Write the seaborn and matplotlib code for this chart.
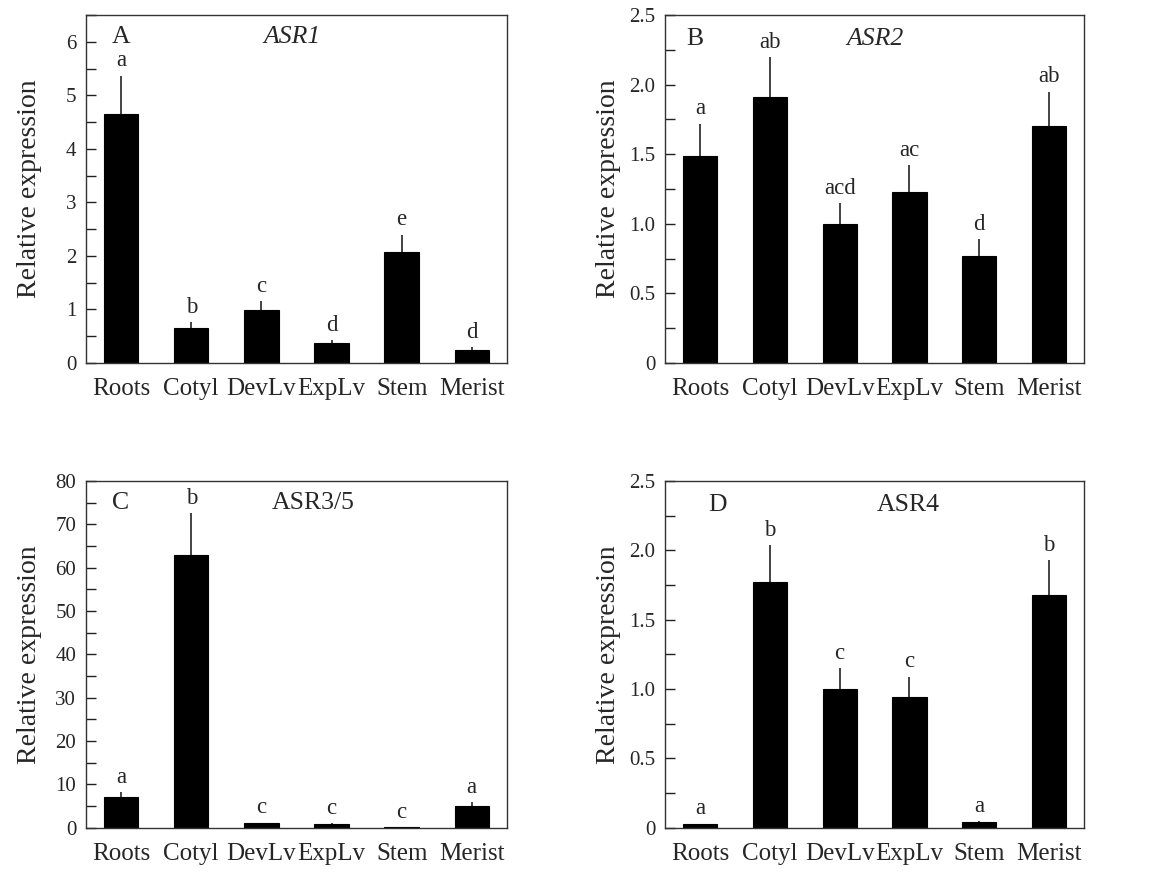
import matplotlib
matplotlib.use("Agg")
import matplotlib.pyplot as plt
import seaborn as sns
import numpy as np
import pandas as pd
from matplotlib.ticker import MultipleLocator, FuncFormatter

# tissues on the x axis
tissues = ["Roots", "Cotyl", "DevLv", "ExpLv", "Stem", "Merist"]

# ASR1
asr1_mean = [4.66, 0.65, 0.99, 0.37, 2.08, 0.24]
asr1_err = [0.71, 0.12, 0.17, 0.06, 0.32, 0.05]
asr1_sig = ["a", "b", "c", "d", "e", "d"]

# ASR2
asr2_mean = [1.49, 1.91, 1.00, 1.23, 0.77, 1.70]
asr2_err = [0.23, 0.29, 0.15, 0.19, 0.12, 0.25]
asr2_sig = ["a", "ab", "acd", "ac", "d", "ab"]

# ASR3/5
asr35_mean = [7.0, 63.0, 1.0, 0.9, 0.05, 5.0]
asr35_err = [1.3, 9.5, 0.2, 0.2, 0.0, 0.9]
asr35_sig = ["a", "b", "c", "c", "c", "a"]

# ASR4
asr4_mean = [0.025, 1.77, 1.00, 0.94, 0.043, 1.68]
asr4_err = [0.005, 0.27, 0.15, 0.15, 0.007, 0.25]
asr4_sig = ["a", "b", "c", "c", "a", "b"]

sns.set_style("ticks")
plt.rcParams['font.family'] = ['Liberation Serif', 'DejaVu Serif']

fig = plt.figure(figsize=(11.53, 8.72), dpi=100)

panels = [
    # rect, mean, err, sig, letter, title, italic, ymax, major, minor, letter_pos, title_pos
    ([0.0746, 0.5837, 0.365, 0.399], asr1_mean, asr1_err, asr1_sig, "A", "ASR1", True,
     6.5, 1, 0.5, (0.083, 0.937), (0.49, 0.937)),
    ([0.5768, 0.5837, 0.3634, 0.399], asr2_mean, asr2_err, asr2_sig, "B", "ASR2", True,
     2.5, 0.5, 0.25, (0.072, 0.93), (0.50, 0.93)),
    ([0.0746, 0.0508, 0.365, 0.3976], asr35_mean, asr35_err, asr35_sig, "C", "ASR3/5", False,
     80, 10, 5, (0.083, 0.937), (0.54, 0.937)),
    ([0.5768, 0.0508, 0.3634, 0.3976], asr4_mean, asr4_err, asr4_sig, "D", "ASR4", False,
     2.5, 0.5, 0.25, (0.126, 0.93), (0.58, 0.93)),
]

for rect, mean, err, sig, letter, title, italic, ymax, major, minor, lpos, tpos in panels:
    ax = fig.add_axes(rect)
    df = pd.DataFrame({"tissue": tissues, "expr": mean})
    sns.barplot(data=df, x="tissue", y="expr", color="black", saturation=1,
                width=0.49, errorbar=None, ax=ax, edgecolor="black", linewidth=0.8)
    x = np.arange(len(tissues))
    # upper half of the error bars only, no caps
    ax.errorbar(x, mean, yerr=[np.zeros(len(mean)), err], fmt="none",
                ecolor="#111111", elinewidth=1.1, capsize=0)

    for i in range(len(tissues)):
        ax.annotate(sig[i], (x[i], mean[i] + err[i]), xytext=(0, 3),
                    textcoords="offset points", ha="center", va="bottom",
                    fontsize=16.5)

    ax.text(lpos[0], lpos[1], letter, transform=ax.transAxes, ha="center",
            va="center", fontsize=18.5)
    ax.text(tpos[0], tpos[1], title, transform=ax.transAxes, ha="center",
            va="center", fontsize=18.5, style="italic" if italic else "normal")

    ax.set_xlim(-0.5, len(tissues) - 0.5)
    ax.set_ylim(0, ymax)
    ax.yaxis.set_major_locator(MultipleLocator(major))
    ax.yaxis.set_minor_locator(MultipleLocator(minor))
    if major < 1:
        ax.yaxis.set_major_formatter(FuncFormatter(lambda v, p: "0" if v == 0 else f"{v:.1f}"))
    else:
        ax.yaxis.set_major_formatter(FuncFormatter(lambda v, p: f"{int(round(v))}"))
    ax.tick_params(axis="y", which="both", direction="in", length=7, width=1,
                   labelsize=15, pad=7, right=False, color="#222222")
    ax.tick_params(axis="x", length=0, labelsize=18, pad=11)
    ax.set_xlabel("")
    ax.set_ylabel("Relative expression", fontsize=20)
    ax.yaxis.set_label_coords(-0.105, 0.5)
    for s in ax.spines.values():
        s.set_visible(True)
        s.set_linewidth(1.0)
        s.set_color("#333333")

fig.savefig("out.png", dpi=100)
